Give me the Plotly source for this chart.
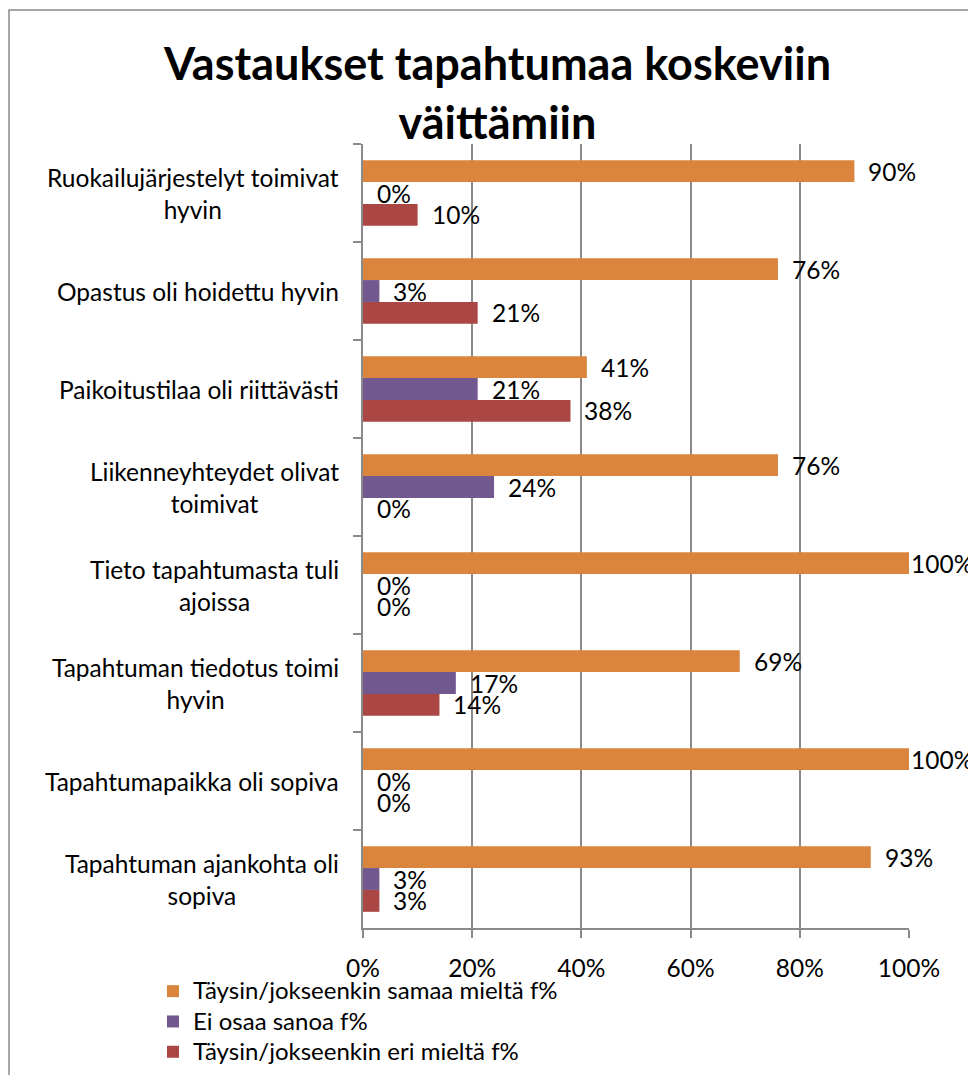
import plotly.graph_objects as go

categories = [
    "Ruokailujärjestelyt toimivat<br>hyvin",
    "Opastus oli hoidettu hyvin",
    "Paikoitustilaa oli riittävästi",
    "Liikenneyhteydet olivat<br>toimivat",
    "Tieto tapahtumasta tuli<br>ajoissa",
    "Tapahtuman tiedotus toimi<br>hyvin",
    "Tapahtumapaikka oli sopiva",
    "Tapahtuman ajankohta oli<br>sopiva",
]
series_names = [
    "Täysin/jokseenkin samaa mieltä f%",
    "Ei osaa sanoa f%",
    "Täysin/jokseenkin eri mieltä f%",
]
samaa = [90, 76, 41, 76, 100, 69, 100, 93]
ei_osaa = [0, 3, 21, 24, 0, 17, 0, 3]
eri = [10, 21, 38, 0, 0, 14, 0, 3]
x_ticks = [0, 20, 40, 60, 80, 100]

colors = ["#DB843D", "#71588F", "#AA4643"]
FONT = "Lato"
FS = 24.5

# page body has an 8px margin; lay out in screen coords and subtract it
OFF = 8
W, H = 976 - OFF, 1075 - OFF
PL, PR, PT, PB = 363, 909, 144, 928          # plot area in screen pixels
ML, MT = PL - OFF, PT - OFF
MR = W - (PR - OFF)
MB = H - (PB - OFF)
plot_w = PR - PL
plot_h = PB - PT
BARGAP = 0.33
cat_px = plot_h / len(categories)
bar_px = cat_px * (1 - BARGAP) / 3


def px_x(sx):
    return (sx - PL) / plot_w


def px_y(sy):
    return (PB - sy) / plot_h


fig = go.Figure()
all_series = [samaa, ei_osaa, eri]
for name, vals, col in zip(series_names, all_series, colors):
    fig.add_trace(go.Bar(
        y=categories, x=vals, orientation="h",
        name=f'<span style="font-size:24px">{name}</span>',
        marker=dict(color=col, line=dict(width=0)),
    ))

annotations = []
for i, vals in enumerate(all_series):
    yshift = (1 - i) * bar_px
    for c, v in zip(categories, vals):
        annotations.append(dict(
            x=v, y=c, xref="x", yref="y", text=f"{v}%", showarrow=False,
            xanchor="left", yanchor="middle",
            xshift=0 if v >= 100 else 12, yshift=yshift,
            font=dict(family=FONT, size=FS, color="black"),
        ))
for c in categories:
    annotations.append(dict(
        x=0, y=c, xref="paper", yref="y", text=c, showarrow=False,
        xanchor="right", yanchor="middle", align="center", xshift=-22,
        font=dict(family=FONT, size=FS, color="black"),
    ))
annotations.append(dict(
    x=px_x(497), y=px_y(34), xref="paper", yref="paper",
    text="<b>Vastaukset tapahtumaa koskeviin<br>väittämiin</b>",
    showarrow=False, xanchor="center", yanchor="top", align="center",
    font=dict(family=FONT, size=45, color="black"),
))

shapes = [dict(
    type="rect", xref="paper", yref="paper",
    x0=px_x(9), x1=1.6, y0=-0.6, y1=px_y(10),
    line=dict(color="#8a8a8a", width=1.5), fillcolor="rgba(0,0,0,0)", layer="below",
)]

fig.update_layout(
    width=W, height=H,
    margin=dict(l=ML, r=MR, t=MT, b=MB, autoexpand=False),
    paper_bgcolor="white", plot_bgcolor="white",
    barmode="group", bargap=BARGAP, bargroupgap=0,
    font=dict(family=FONT, size=FS, color="black"),
    xaxis=dict(
        range=[0, 100], tickvals=x_ticks, ticktext=[f"{t}%" for t in x_ticks],
        showgrid=True, gridcolor="#8a8a8a", gridwidth=1.5,
        showline=True, linecolor="#8a8a8a", linewidth=1.5,
        ticks="outside", ticklen=8, tickcolor="#8a8a8a", tickwidth=1.5,
        ticklabelstandoff=10, zeroline=False,
        tickfont=dict(family=FONT, size=FS, color="black"),
        fixedrange=True,
    ),
    yaxis=dict(
        autorange="reversed", showticklabels=False,
        showline=True, linecolor="#8a8a8a", linewidth=1.5,
        ticks="outside", ticklen=8, tickcolor="#8a8a8a", tickwidth=1.5,
        tickson="boundaries", showgrid=False, zeroline=False,
    ),
    legend=dict(
        orientation="v", traceorder="normal",
        x=px_x(153), xanchor="left",
        y=px_y(971), yanchor="top",
        font=dict(family=FONT, size=21, color="black"),
        bgcolor="rgba(0,0,0,0)", tracegroupgap=0,
    ),
    annotations=annotations,
    shapes=shapes,
    showlegend=True,
)

fig.write_html("out.html")
